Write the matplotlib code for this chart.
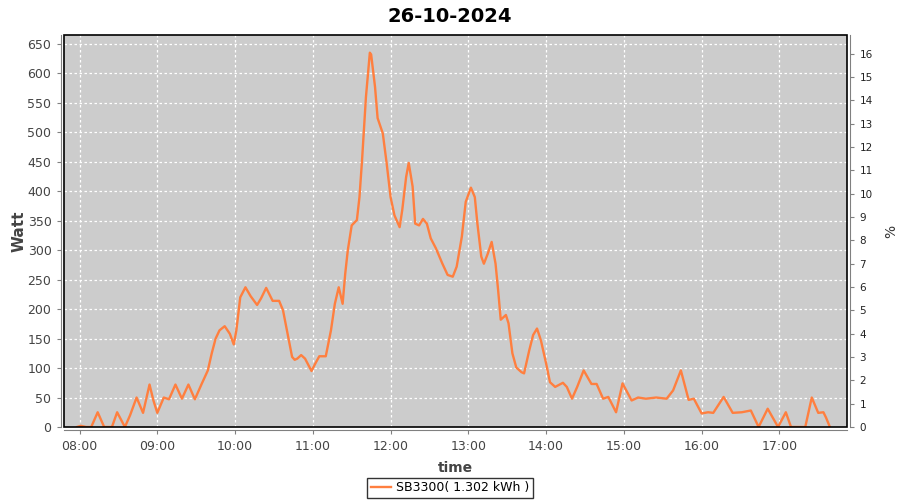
import matplotlib
matplotlib.use("Agg")
import matplotlib.pyplot as plt
from matplotlib.patches import Rectangle

times = ["07:58", "08:01", "08:05", "08:09", "08:14", "08:19", "08:25", "08:29", "08:35", "08:39",
         "08:44", "08:49", "08:54", "08:57", "09:00", "09:05", "09:09", "09:14", "09:19", "09:24",
         "09:29", "09:34", "09:39", "09:42", "09:45", "09:48", "09:52", "09:56", "09:59", "10:01",
         "10:04", "10:08", "10:12", "10:17", "10:20", "10:24", "10:29", "10:34", "10:37", "10:40",
         "10:44", "10:46", "10:48", "10:51", "10:54", "10:59", "11:02", "11:05", "11:10", "11:14",
         "11:17", "11:20", "11:23", "11:25", "11:27", "11:30", "11:34", "11:36", "11:38", "11:41",
         "11:44", "11:45", "11:48", "11:50", "11:54", "11:57", "12:00", "12:03", "12:07", "12:09",
         "12:12", "12:14", "12:17", "12:19", "12:22", "12:25", "12:28", "12:31", "12:35", "12:40",
         "12:44", "12:48", "12:51", "12:55", "12:58", "13:02", "13:05", "13:07", "13:10", "13:12",
         "13:15", "13:18", "13:21", "13:23", "13:25", "13:29", "13:31", "13:34", "13:37", "13:41",
         "13:43", "13:47", "13:50", "13:53", "13:56", "14:00", "14:03", "14:07", "14:13", "14:16",
         "14:20", "14:24", "14:29", "14:35", "14:39", "14:44", "14:48", "14:54", "14:59", "15:06",
         "15:11", "15:17", "15:25", "15:33", "15:38", "15:44", "15:50", "15:54", "16:00", "16:05",
         "16:09", "16:17", "16:24", "16:31", "16:38", "16:44", "16:51", "16:59", "17:05", "17:09",
         "17:20", "17:25", "17:30", "17:34", "17:36", "17:39"]
watts = [0, 2, 0, 0, 25, 0, 0, 25, 0, 20,
         50, 24, 72, 45, 24, 50, 47, 72, 48, 72,
         47, 72, 96, 125, 150, 164, 171, 158, 140, 164,
         220, 237, 222, 207, 218, 236, 214, 214, 198, 164,
         119, 114, 116, 122, 116, 95, 108, 120, 120, 164,
         209, 237, 209, 260, 300, 342, 351, 390, 453, 560,
         635, 632, 577, 524, 498, 447, 390, 359, 339, 368,
         424, 448, 408, 345, 342, 353, 345, 320, 303, 277,
         258, 255, 272, 323, 382, 406, 390, 345, 289, 277,
         294, 314, 277, 232, 182, 190, 176, 125, 101, 93,
         91, 130, 156, 167, 147, 108, 76, 68, 75, 68,
         48, 68, 96, 73, 73, 48, 51, 25, 74, 45,
         50, 48, 50, 48, 62, 96, 46, 48, 23, 25,
         24, 51, 24, 25, 28, 0, 31, 0, 25, 0,
         0, 50, 24, 25, 16, 0]

hour_ticks = list(range(8, 18))
hour_labels = [f"{h:02d}:00" for h in hour_ticks]
watt_ticks = list(range(0, 651, 50))
pct_ticks = list(range(0, 17))
title = "26-10-2024"
series_label = "SB3300( 1.302 kWh )"

def to_hours(s):
    h, m = s.split(":")
    return int(h) + int(m) / 60.0

x = [to_hours(t) for t in times]

fig = plt.figure(figsize=(9, 5), dpi=100)
ax = fig.add_axes([64 / 900, 1 - 427 / 500, (847 - 64) / 900, (427 - 35) / 500])
ax.set_facecolor("#CCCCCC")
line, = ax.plot(x, watts, color="#FF7F3F", lw=1.7, label=series_label)

ymax = 665
ax.set_ylim(0, ymax)
ax.set_xlim(7.8, 17.87)
ax.set_yticks(watt_ticks)
ax.set_xticks(hour_ticks)
ax.set_xticklabels(hour_labels)
ax.grid(True, color="white", ls=(0, (2, 2)), lw=0.9)
ax.set_axisbelow(True)

for side in ["left", "bottom"]:
    ax.spines[side].set_position(("outward", 2.5))
    ax.spines[side].set_color("#808080")
for side in ["top", "right"]:
    ax.spines[side].set_visible(False)
ax.add_patch(Rectangle((0, 0), 1, 1, transform=ax.transAxes, fill=False,
                       ec="black", lw=1.2, zorder=5, clip_on=False))
ax.tick_params(axis="both", colors="#808080", labelcolor="#444444", labelsize=9, length=3)

ax2 = ax.twinx()
ax2.set_ylim(0, ymax / 39.6)
ax2.set_yticks(pct_ticks)
for side in ["left", "bottom", "top"]:
    ax2.spines[side].set_visible(False)
ax2.spines["right"].set_position(("outward", 2.5))
ax2.spines["right"].set_color("#808080")
ax2.tick_params(axis="y", colors="#808080", labelcolor="#222222", labelsize=7.5, length=3)
ax2.set_ylabel("%", fontsize=10, color="#333333", labelpad=8)

ax.set_ylabel("Watt", fontsize=11, fontweight="bold", color="#444444", labelpad=1)
ax.set_xlabel("time", fontsize=10, fontweight="bold", color="#444444", labelpad=6)
fig.suptitle(title, fontsize=14, fontweight="bold", y=0.985)

leg = fig.legend(handles=[line], loc="center", bbox_to_anchor=(0.5, 0.024),
                 fontsize=9, frameon=True, fancybox=False, handlelength=1.6,
                 borderpad=0.3, handletextpad=0.4)
leg.get_frame().set_edgecolor("black")
leg.get_frame().set_linewidth(1.0)

fig.savefig("out.png", dpi=100)
